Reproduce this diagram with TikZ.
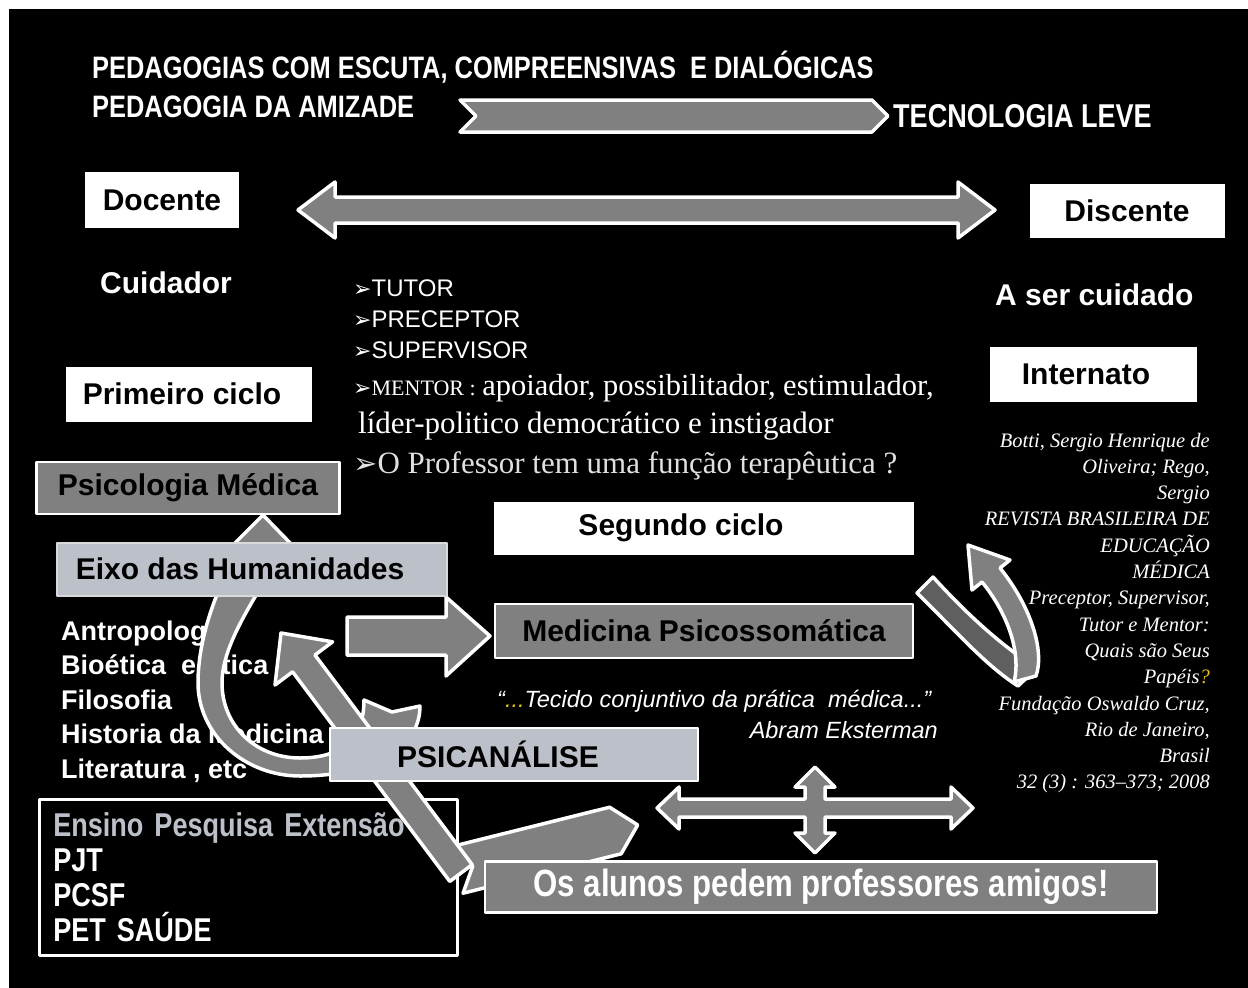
\documentclass[tikz,border=0pt]{standalone}
\usepackage{fontspec}
\setmainfont{Liberation Sans}
\newfontfamily\serifface{Liberation Serif}
\newfontfamily\narrowface[FakeStretch=0.82]{Liberation Sans}
\newfontfamily\symface{DejaVu Sans}
\usepackage{tikz}
\usetikzlibrary{arrows.meta}
\definecolor{arrowgray}{HTML}{808080}
\definecolor{darkarrow}{HTML}{5F5F5F}
\definecolor{lightbox}{HTML}{BCC0C8}
\definecolor{quoteyellow}{HTML}{E8C21A}
\tikzset{
  every picture/.style={line join=round},
  blockarrow/.style={fill=arrowgray, draw=white, line width=3.5pt},
  titletext/.style={text=white, inner sep=0pt, font=\narrowface\bfseries\fontsize{31}{33}\selectfont},
  whitebox/.style={fill=white, text=black, inner sep=0pt, font=\bfseries\fontsize{30}{36}\selectfont},
  graybox/.style={fill=arrowgray, draw=white, line width=2.5pt, text=black, inner sep=0pt, font=\bfseries\fontsize{30}{36}\selectfont},
  lightgraybox/.style={fill=lightbox, draw=white!85!black, line width=2pt, text=black, inner sep=0pt, font=\bfseries\fontsize{30}{36}\selectfont},
  whitetext/.style={text=white, inner sep=0pt, font=\bfseries\fontsize{30}{36}\selectfont},
  humtext/.style={text=white, inner sep=0pt, font=\bfseries\fontsize{27}{32}\selectfont},
  rolestext/.style={text=white, inner sep=0pt, font=\fontsize{24}{28}\selectfont},
  citetext/.style={text=white, inner sep=0pt, font=\serifface\itshape\fontsize{20.5}{24}\selectfont},
}
\newcommand{\tip}[1][22]{{\symface\fontsize{#1}{#1}\selectfont ➢}}

\begin{document}
\begin{tikzpicture}[x=1pt,y=-1pt]
\fill[white] (0,0) rectangle (1248,988);
\fill[black] (9,9) rectangle (1248,988);

\node[titletext,anchor=base west] (pedagogias) at (92,78) {PEDAGOGIAS COM ESCUTA, COMPREENSIVAS\ \ E DIALÓGICAS};
\node[titletext,anchor=base west] (amizade) at (92,117) {PEDAGOGIA DA AMIZADE};
\node[titletext,anchor=base west,font=\narrowface\bfseries\fontsize{33}{35}\selectfont] (tecnologia) at (893,127) {TECNOLOGIA LEVE};
\draw[blockarrow] (460,100) -- (872,100) -- (888,116) -- (872,132) -- (460,132) -- (476,116) -- cycle;

\node[whitebox,minimum width=154pt,minimum height=56pt] (docente) at (162,200) {Docente};
\node[whitebox,minimum width=195pt,minimum height=54pt] (discente) at (1127,211) {Discente};
\draw[blockarrow] (298,210) -- (335,182) -- (335,197) -- (958,197) -- (958,182) -- (995,210) -- (958,238) -- (958,223) -- (335,223) -- (335,238) -- cycle;

\node[whitetext,anchor=base west] (cuidador) at (100,293) {Cuidador};
\node[whitetext,anchor=base west] (sercuidado) at (995,305) {A ser cuidado};

\node[rolestext,anchor=base west] (tutor) at (353,296) {\tip TUTOR};
\node[rolestext,anchor=base west] (preceptor) at (353,327) {\tip PRECEPTOR};
\node[rolestext,anchor=base west] (supervisor) at (353,358) {\tip SUPERVISOR};
\node[rolestext,anchor=base west] (mentor) at (353,395) {\tip{\serifface\fontsize{22}{26}\selectfont MENTOR :} {\serifface\fontsize{30.5}{34}\selectfont apoiador, possibilitador, estimulador,}};
\node[rolestext,anchor=base west,font=\serifface\fontsize{31}{34}\selectfont] (lider) at (358,433) {líder-politico democrático e instigador};
\node[rolestext,anchor=base west,text=white!88!black,font=\serifface\fontsize{31}{34}\selectfont] (terapeutica) at (353,473) {\tip[29]O Professor tem uma função terapêutica ?};

\node[whitebox,minimum width=246pt,minimum height=55pt] (primeiro) at (189,394) {\hspace*{-14pt}Primeiro ciclo};
\node[whitebox,minimum width=207pt,minimum height=55pt] (internato) at (1093,374) {\hspace*{-14pt}Internato};

\foreach \txt [count=\i] in {Antropologia, Bioética\ \ e Ética, Filosofia, Historia da Medicina, {Literatura , etc}}
  \node[humtext,anchor=base west] (hum\i) at (61,{640+34.5*(\i-1)}) {\txt};

\node[text=white,inner sep=0pt,anchor=base west,font=\itshape\fontsize{23.5}{28}\selectfont] (tecido) at (497,707) {“\textcolor{quoteyellow}{...}Tecido conjuntivo da prática\ \ médica...”};
\node[text=white,inner sep=0pt,anchor=base east,font=\itshape\fontsize{23.5}{28}\selectfont] (eksterman) at (938,738) {Abram Eksterman};

\foreach \txt [count=\i] in {{Botti, Sergio Henrique de}, {Oliveira; Rego,}, Sergio, REVISTA BRASILEIRA DE, EDUCAÇÃO, MÉDICA, {Preceptor, Supervisor,}, Tutor e Mentor:, Quais são Seus, Papéis\textcolor{quoteyellow}{?}, {Fundação Oswaldo Cruz,}, {Rio de Janeiro,}, Brasil, 32 (3) : 363–373; 2008}
  \node[citetext,anchor=base east] (cite\i) at (1210,{447+26.3*(\i-1)}) {\txt};

\node[fill=black,draw=white,line width=2.5pt,anchor=north west,minimum width=418pt,minimum height=156pt,inner xsep=14pt,inner ysep=0pt,text width=390pt,align=left,text=white,font=\narrowface\bfseries\fontsize{33}{35}\selectfont] (ensino) at (38,798) {\textcolor{lightbox}{Ensino Pesquisa Extensão}\\PJT\\PCSF\\PET SAÚDE};

\draw[blockarrow] (364,700) .. controls (364,740) and (340,758) .. (300,758) .. controls (255,758) and (222,725) .. (222,683) .. controls (222,640) and (262,590) .. (283,548) -- (295,548) -- (263,515) -- (230,548) -- (240,548) .. controls (215,590) and (198,640) .. (198,683) .. controls (198,735) and (245,776) .. (300,776) .. controls (370,776) and (420,750) .. (420,706) -- (392,712) -- cycle;

\draw[blockarrow] (347,617) -- (446,617) -- (446,597) -- (490,636) -- (446,676) -- (446,655) -- (347,655) -- cycle;

\begin{scope}[shift={(465,868)},rotate=14]
\draw[blockarrow] (-8,-24) -- (155,-24) -- (178,0) -- (155,24) -- (-8,24) -- (8,0) -- cycle;
\end{scope}
\begin{scope}[shift={(281,633)},rotate=-53.13]
\draw[blockarrow] (0,0) -- (38,-36) -- (38,-14) -- (300,-14) -- (300,14) -- (38,14) -- (38,36) -- cycle;
\end{scope}

\draw[blockarrow,fill=darkarrow] (917,593) .. controls (955,630) and (985,665) .. (1018,686) -- (1037,668) .. controls (1000,645) and (965,612) .. (933,577) -- cycle;
\draw[blockarrow] (1014,682) .. controls (1022,650) and (1005,610) .. (982,582) -- (972,590) -- (968,545) -- (1010,560) -- (1000,568) .. controls (1030,605) and (1045,650) .. (1036,676) -- cycle;

\draw[blockarrow] (657,808) -- (679,787) -- (679,799) -- (805,799) -- (805,787) -- (795,787) -- (815,767) -- (835,787) -- (825,787) -- (825,799) -- (951,799) -- (951,787) -- (973,808) -- (951,829) -- (951,817) -- (825,817) -- (825,833) -- (835,833) -- (815,853) -- (795,833) -- (805,833) -- (805,817) -- (679,817) -- (679,829) -- cycle;

\node[graybox,minimum width=303pt,minimum height=52pt] (psicologia) at (188,488) {Psicologia Médica};
\node[lightgraybox,minimum width=390pt,minimum height=53pt] (eixo) at (252,569) {\hspace*{-24pt}Eixo das Humanidades};
\node[whitebox,minimum width=420pt,minimum height=53pt] (segundo) at (704,528) {\hspace*{-46pt}Segundo ciclo};
\node[graybox,minimum width=418pt,minimum height=54pt] (medicina) at (704,631) {Medicina Psicossomática};
\node[lightgraybox,draw=white,minimum width=368pt,minimum height=53pt] (psicanalise) at (514,754) {\hspace*{-32pt}PSICANÁLISE};
\node[graybox,text=white,minimum width=672pt,minimum height=51pt,font=\narrowface\bfseries\fontsize{38}{42}\selectfont] (alunos) at (821,887) {Os alunos pedem professores amigos!};
\end{tikzpicture}
\end{document}
